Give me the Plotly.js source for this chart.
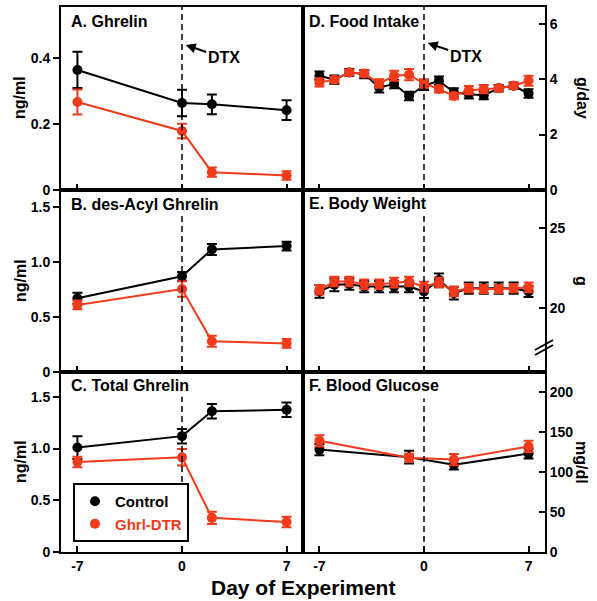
<!DOCTYPE html>
<html>
<head>
<meta charset="utf-8">
<script src="https://cdn.plot.ly/plotly-3.0.1.min.js"></script>
<style>html,body{margin:0;padding:0;background:#fff;}#chart{width:597px;height:601px;}</style>
</head>
<body>
<div id="chart"></div>
<script>
// ---- Data ----
const plasmaDays = [-7, 0, 2, 7];
const ghrelinControl = [0.364, 0.264, 0.26, 0.242];
const ghrelinControlErr = [0.055, 0.04, 0.03, 0.03];
const ghrelinDTR = [0.267, 0.179, 0.054, 0.044];
const ghrelinDTRErr = [0.038, 0.022, 0.014, 0.013];

const desAcylControl = [0.67, 0.87, 1.115, 1.145];
const desAcylControlErr = [0.05, 0.04, 0.05, 0.04];
const desAcylDTR = [0.61, 0.755, 0.28, 0.26];
const desAcylDTRErr = [0.04, 0.07, 0.05, 0.04];

const totalControl = [1.01, 1.12, 1.36, 1.375];
const totalControlErr = [0.11, 0.07, 0.07, 0.07];
const totalDTR = [0.87, 0.915, 0.33, 0.29];
const totalDTRErr = [0.05, 0.08, 0.06, 0.05];

const dailyDays = [-7, -6, -5, -4, -3, -2, -1, 0, 1, 2, 3, 4, 5, 6, 7];
const foodControl = [4.12, 3.98, 4.24, 4.18, 3.7, 3.82, 3.39, 3.76, 3.94, 3.52, 3.45, 3.42, 3.67, 3.76, 3.48];
const foodControlErr = [0.15, 0.15, 0.12, 0.15, 0.18, 0.15, 0.15, 0.15, 0.15, 0.15, 0.15, 0.15, 0.12, 0.12, 0.15];
const foodDTR = [3.88, 3.98, 4.24, 4.2, 3.84, 4.12, 4.16, 3.84, 3.64, 3.39, 3.6, 3.64, 3.67, 3.76, 3.94];
const foodDTRErr = [0.15, 0.1, 0.1, 0.12, 0.15, 0.18, 0.2, 0.15, 0.12, 0.12, 0.15, 0.15, 0.1, 0.1, 0.18];

const weightControl = [21.05, 21.46, 21.5, 21.35, 21.35, 21.35, 21.35, 21.04, 21.77, 20.94, 21.25, 21.25, 21.25, 21.25, 21.04];
const weightControlErr = [0.4, 0.4, 0.35, 0.35, 0.35, 0.35, 0.35, 0.4, 0.4, 0.4, 0.35, 0.35, 0.35, 0.35, 0.35];
const weightDTR = [21.15, 21.67, 21.67, 21.5, 21.5, 21.6, 21.67, 21.35, 21.6, 21.04, 21.25, 21.2, 21.2, 21.25, 21.3];
const weightDTRErr = [0.3, 0.3, 0.3, 0.3, 0.3, 0.3, 0.3, 0.3, 0.3, 0.3, 0.25, 0.25, 0.25, 0.25, 0.3];

const glucoseDays = [-7, -1, 2, 7];
const glucoseControl = [128, 118.5, 109, 123];
const glucoseControlErr = [7, 8, 6, 6];
const glucoseDTR = [139, 117.7, 115.5, 132];
const glucoseDTRErr = [7, 5, 7, 7];

const seriesNames = ['Control', 'Ghrl-DTR'];
const panelTitles = ['A. Ghrelin', 'B. des-Acyl Ghrelin', 'C. Total Ghrelin', 'D. Food Intake', 'E. Body Weight', 'F. Blood Glucose'];
const xTicks = [-7, 0, 7];

// ---- Styles ----
const BLACK = '#000000';
const RED = '#F03A1A';
const FONT = 'Liberation Sans, Arial, sans-serif';

function trace(x, y, err, color, ax) {
  return {
    x: x, y: y, type: 'scatter', mode: 'lines+markers',
    xaxis: 'x' + (ax === 1 ? '' : ax), yaxis: 'y' + (ax === 1 ? '' : ax),
    line: {color: color, width: 2},
    marker: {color: color, size: 10},
    error_y: {type: 'data', array: err, visible: true, color: color, thickness: 2, width: 5},
    showlegend: false, cliponaxis: false, hoverinfo: 'skip'
  };
}

const data = [
  trace(plasmaDays, ghrelinControl, ghrelinControlErr, BLACK, 1),
  trace(plasmaDays, ghrelinDTR, ghrelinDTRErr, RED, 1),
  trace(plasmaDays, desAcylControl, desAcylControlErr, BLACK, 2),
  trace(plasmaDays, desAcylDTR, desAcylDTRErr, RED, 2),
  trace(plasmaDays, totalControl, totalControlErr, BLACK, 3),
  trace(plasmaDays, totalDTR, totalDTRErr, RED, 3),
  trace(dailyDays, foodControl, foodControlErr, BLACK, 4),
  trace(dailyDays, foodDTR, foodDTRErr, RED, 4),
  trace(dailyDays, weightControl, weightControlErr, BLACK, 5),
  trace(dailyDays, weightDTR, weightDTRErr, RED, 5),
  trace(glucoseDays, glucoseControl, glucoseControlErr, BLACK, 6),
  trace(glucoseDays, glucoseDTR, glucoseDTRErr, RED, 6),
  {x: [null], y: [null], type: 'scatter', mode: 'markers', name: seriesNames[0],
   marker: {color: BLACK, size: 10}, xaxis: 'x3', yaxis: 'y3', showlegend: true},
  {x: [null], y: [null], type: 'scatter', mode: 'markers',
   name: '<span style="color:' + RED + '">' + seriesNames[1] + '</span>',
   marker: {color: RED, size: 10}, xaxis: 'x3', yaxis: 'y3', showlegend: true}
];

const W = 597, H = 601;
const leftDom = [61 / W, 303 / W];
const rightDom = [303 / W, 545 / W];
const rowDom = [[1 - 190 / H, 1 - 7 / H], [1 - 372 / H, 1 - 190 / H], [1 - 552 / H, 1 - 372 / H]];

const tickFont = {family: FONT, size: 14, color: '#000', weight: 'bold'};

function xax(dom, showLabels, anchor) {
  return {
    domain: dom, anchor: anchor, range: [-8.1, 8.1], tickvals: xTicks,
    ticktext: xTicks.map(String), showticklabels: showLabels,
    ticks: 'inside', ticklen: 6, tickwidth: 2, tickcolor: '#000',
    showline: true, linewidth: 2, linecolor: '#000', mirror: true,
    showgrid: false, zeroline: false, tickfont: tickFont, fixedrange: true
  };
}
function yax(dom, range, vals, texts, side, anchor) {
  return {
    domain: dom, anchor: anchor, range: range, tickvals: vals, ticktext: texts, side: side,
    ticks: side === 'left' ? 'outside' : 'inside', ticklen: 6, tickwidth: 2, tickcolor: '#000',
    showline: true, linewidth: 2, linecolor: '#000', mirror: true,
    showgrid: false, zeroline: false, tickfont: tickFont, fixedrange: true
  };
}

const layout = {
  width: W, height: H,
  margin: {l: 0, r: 0, t: 0, b: 0},
  paper_bgcolor: '#fff', plot_bgcolor: '#fff',
  font: {family: FONT, color: '#000'},
  showlegend: true,
  legend: {
    x: 73 / W, y: 1 - 483 / H, xanchor: 'left', yanchor: 'top',
    bordercolor: '#000', borderwidth: 2, bgcolor: '#fff',
    font: {family: FONT, size: 15, color: '#000', weight: 'bold'},
    itemwidth: 30, tracegroupgap: 0
  },
  xaxis: xax(leftDom, false, 'y'),
  xaxis2: xax(leftDom, false, 'y2'),
  xaxis3: xax(leftDom, true, 'y3'),
  xaxis4: xax(rightDom, false, 'y4'),
  xaxis5: xax(rightDom, false, 'y5'),
  xaxis6: xax(rightDom, true, 'y6'),
  yaxis: yax(rowDom[0], [0, 0.555], [0, 0.2, 0.4], ['0', '0.2', '0.4'], 'left', 'x'),
  yaxis2: yax(rowDom[1], [0, 1.655], [0, 0.5, 1.0, 1.5], ['0', '0.5', '1.0', '1.5'], 'left', 'x2'),
  yaxis3: yax(rowDom[2], [0, 1.74], [0, 0.5, 1.0, 1.5], ['0', '0.5', '1.0', '1.5'], 'left', 'x3'),
  yaxis4: yax(rowDom[0], [0, 6.6], [0, 2, 4, 6], ['0', '2', '4', '6'], 'right', 'x4'),
  yaxis5: yax(rowDom[1], [16, 27.4], [20, 25], ['20', '25'], 'right', 'x5'),
  yaxis6: yax(rowDom[2], [0, 225], [0, 50, 100, 150, 200], ['0', '50', '100', '150', '200'], 'right', 'x6'),
  shapes: [
    {type: 'line', xref: 'x', yref: 'y', x0: 0, x1: 0, y0: 0, y1: 0.555, line: {color: '#000', width: 1.5, dash: '6px,4px'}},
    {type: 'line', xref: 'x2', yref: 'y2', x0: 0, x1: 0, y0: 0, y1: 1.45, line: {color: '#000', width: 1.5, dash: '6px,4px'}},
    {type: 'line', xref: 'x3', yref: 'y3', x0: 0, x1: 0, y0: 0, y1: 1.5, line: {color: '#000', width: 1.5, dash: '6px,4px'}},
    {type: 'line', xref: 'x4', yref: 'y4', x0: 0, x1: 0, y0: 0, y1: 6.6, line: {color: '#000', width: 1.5, dash: '6px,4px'}},
    {type: 'line', xref: 'x5', yref: 'y5', x0: 0, x1: 0, y0: 16, y1: 26.0, line: {color: '#000', width: 1.5, dash: '6px,4px'}},
    {type: 'line', xref: 'x6', yref: 'y6', x0: 0, x1: 0, y0: 0, y1: 192, line: {color: '#000', width: 1.5, dash: '6px,4px'}},
    // axis break marks on E right axis
    {type: 'line', xref: 'paper', yref: 'paper', x0: 535 / W, x1: 553 / W, y0: 1 - 355 / H, y1: 1 - 345 / H, line: {color: '#000', width: 2}},
    {type: 'line', xref: 'paper', yref: 'paper', x0: 535 / W, x1: 553 / W, y0: 1 - 350 / H, y1: 1 - 340 / H, line: {color: '#000', width: 2}}
  ],
  annotations: []
};

const titlePos = [[69, 22], [69, 205], [69, 385], [307, 22], [307, 204], [307, 385]];
panelTitles.forEach((t, i) => {
  layout.annotations.push({
    text: t, xref: 'paper', yref: 'paper', x: titlePos[i][0] / W, y: 1 - titlePos[i][1] / H,
    xanchor: 'left', yanchor: 'middle', showarrow: false,
    font: {family: FONT, size: 16, color: '#000', weight: 'bold'}
  });
});

// DTX arrows
[['x', 'y', 0.44], ['x4', 'y4', 5.3]].forEach(a => {
  layout.annotations.push({
    text: 'DTX', xref: a[0], yref: a[1], x: 0.25, y: a[2],
    showarrow: true, arrowhead: 2, arrowsize: 1, arrowwidth: 2, arrowcolor: '#000',
    ax: 38, ay: 13, font: {family: FONT, size: 16, color: '#000', weight: 'bold'}
  });
});

// axis titles
const yTitles = [['ng/ml', 20, 98, -90], ['ng/ml', 20, 281, -90], ['ng/ml', 20, 462, -90],
                 ['g/day', 582, 98, 90], ['g', 582, 281, 90], ['mg/dl', 582, 462, 90]];
yTitles.forEach(t => {
  layout.annotations.push({
    text: t[0], xref: 'paper', yref: 'paper', x: t[1] / W, y: 1 - t[2] / H,
    xanchor: 'center', yanchor: 'middle', showarrow: false, textangle: t[3],
    font: {family: FONT, size: 16, color: '#000', weight: 'bold'}
  });
});
layout.annotations.push({
  text: 'Day of Experiment', xref: 'paper', yref: 'paper', x: 303 / W, y: 1 - 587 / H,
  xanchor: 'center', yanchor: 'middle', showarrow: false,
  font: {family: FONT, size: 21, color: '#000', weight: 'bold'}
});

Plotly.newPlot('chart', data, layout, {staticPlot: true, displayModeBar: false});
</script>
</body>
</html>
